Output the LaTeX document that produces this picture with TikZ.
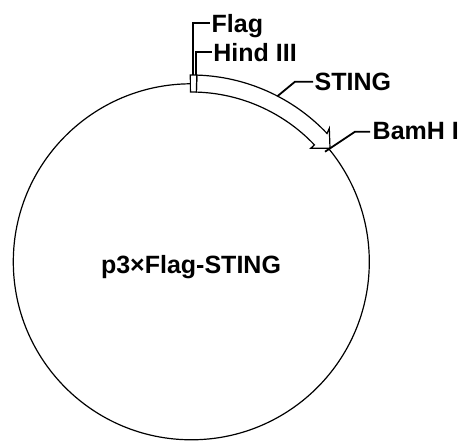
\documentclass[tikz,border=0pt]{standalone}
\usepackage{fontspec}
\setmainfont{Liberation Sans}
\usetikzlibrary{calc}
\begin{document}
\begin{tikzpicture}[x=1pt,y=1pt,
  lbl/.style={font=\fontsize{25}{30}\selectfont\bfseries, inner sep=0pt, anchor=base west},
  ctr/.style={font=\fontsize{25}{30}\selectfont\bfseries, inner sep=0pt, anchor=base},
  leader/.style={line width=1.8pt, line join=miter},
  thin/.style={line width=1.2pt}]
\useasboundingbox (0,0) rectangle (460,441);
\fill[white] (0,0) rectangle (460,441);
\coordinate (O) at (191.3,179.2);
\draw[thin] (O) circle[radius=178];
\begin{scope}[shift={(O)}]
  % STING arrow
  \draw[thin, fill=white, line join=miter]
    (88.3:186.8) arc[start angle=88.3, end angle=43.4, radius=186.8]
    -- (138,133.5) -- (138.7,113.5) -- (119.4,113.5)
    -- (43.5:169.8) arc[start angle=43.5, end angle=88.3, radius=169.8] -- cycle;
  % Flag box
  \draw[thin, fill=white]
    (90.3:186.8) arc[start angle=90.3, end angle=88.3, radius=186.8]
    -- (88.3:169.8) arc[start angle=88.3, end angle=90.3, radius=169.8] -- cycle;
  % anchor points
  \coordinate (flagA) at (2,186.8);
  \coordinate (flagB) at (2,238.5);
  \coordinate (flagC) at (18.7,238.5);
  \coordinate (hindA) at (4.7,186.8);
  \coordinate (hindB) at (4.7,210.1);
  \coordinate (hindC) at (20.4,210.1);
  \coordinate (stingA) at (62.5:186.8);
  \coordinate (stingB) at (103.7,180.1);
  \coordinate (stingC) at (121.7,180.1);
  \coordinate (bamA) at (133.7,110.1);
  \coordinate (bamB) at (163.7,130.1);
  \coordinate (bamC) at (178.7,130.1);
  % labels
  \node[lbl] (flag) at (20.2,228.8) {Flag};
  \node[lbl] (hind) at (21.9,199.8) {Hind III};
  \node[lbl] (sting) at (123.2,171.2) {STING};
  \node[lbl] (bam) at (181.2,121.8) {BamH I};
  \node[ctr] (name) at (-0.3,-12.2) {p3×Flag-STING};
  % leaders
  \draw[leader] (flagA) -- (flagB) -- (flagC);
  \draw[leader] (hindA) -- (hindB) -- (hindC);
  \draw[leader] (stingA) -- (stingB) -- (stingC);
  \draw[leader] (bamA) -- (bamB) -- (bamC);
\end{scope}
\end{tikzpicture}
\end{document}
